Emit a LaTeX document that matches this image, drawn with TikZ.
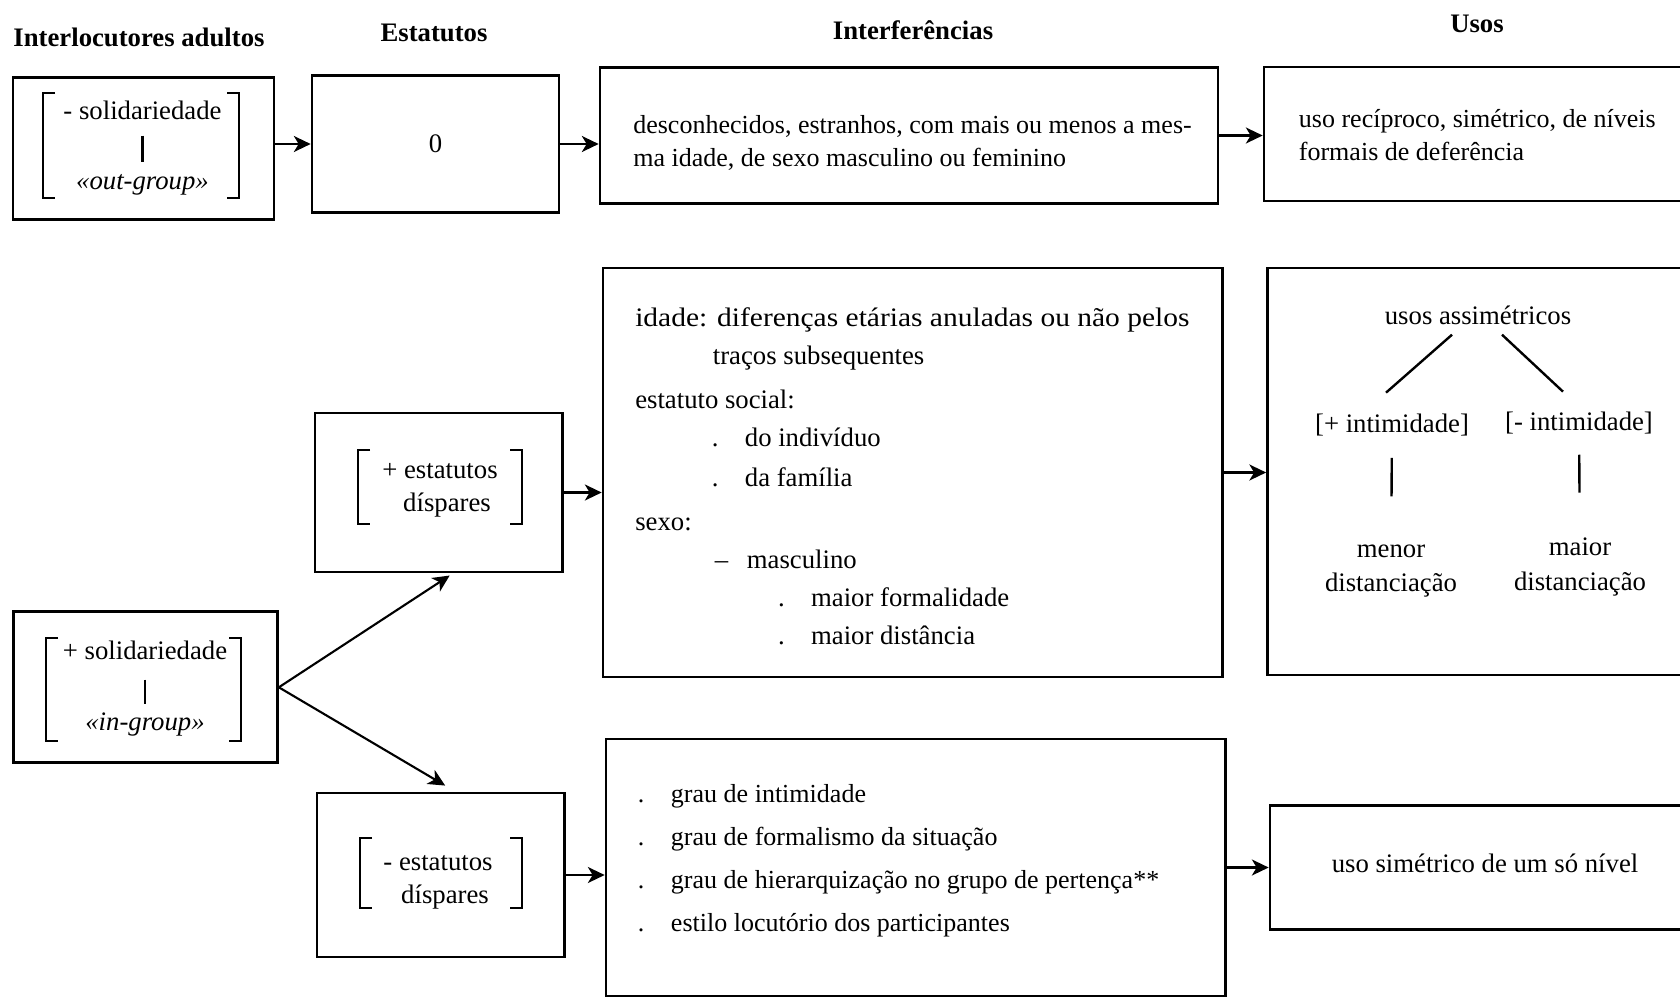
\documentclass[tikz,border=0pt]{standalone}
\usepackage{fontspec}
\usepackage{graphicx}
\setmainfont{Liberation Serif}
\usetikzlibrary{arrows.meta,calc}

\tikzset{
  box/.style={draw, line width=1.9pt, inner sep=0pt},
  sized/.style 2 args={minimum width=#1*0.025cm, minimum height=#2*0.025cm},
  head/.style={font=\fontsize{19}{23}\selectfont\bfseries, inner sep=0pt},
  lbl/.style={font=\fontsize{19}{23.5}\selectfont, inner sep=0pt, align=center},
  txt/.style={inner sep=0pt, align=left, anchor=north west},
  link/.style={line width=1.5pt, -{Stealth[length=0.42cm, width=0.4cm, inset=0.12cm]}},
  brak/.style={line width=1.9pt},
  bar/.style={line width=1.7pt},
}

\begin{document}
\begin{tikzpicture}[x=0.025cm, y=-0.025cm]
  \useasboundingbox (0,0) rectangle (1680,999);

  % titulos das colunas
  \node[head] (h1) at (139,37) {Interlocutores adultos};
  \node[head] (h2) at (434,33) {Estatutos};
  \node[head] (h3) at (913,30) {Interferências};
  \node[head] (h4) at (1477,24) {Usos};

  % linha de cima: out-group
  \node[box, sized={261}{142}] (A1) at (143.5,148.5) {};
  \node[box, sized={247}{137}, font=\fontsize{19}{23}\selectfont] (S1) at (435.5,144) {0};
  \node[box, sized={618}{136}] (I1) at (909,135.5) {};
  \node[box, sized={436}{134}] (U1) at (1482,134) {};

  \node[lbl] (sol1) at (142.5,110) {- solidariedade};
  \node[lbl, font=\fontsize{19}{23}\selectfont\itshape] (outg) at (142.5,185) {«out-group»};
  \draw[bar, shorten <=0.4cm, shorten >=0.3cm] (sol1) -- (outg);
  \draw[brak] (55,93) -| (43,198) -- (55,198);
  \draw[brak] (227,93) -| (239,198) -- (227,198);

  \node[txt, font=\fontsize{18.5}{23.5}\selectfont] (I1t) at (633,115)
    {desconhecidos, estranhos, com mais ou menos a mes-\\
     ma idade, de sexo masculino ou feminino};
  \node[txt, font=\fontsize{18.5}{23.5}\selectfont] (U1t) at (1298.6,109)
    {uso recíproco, simétrico, de níveis\\
     formais de deferência};

  % in-group
  \node[box, sized={264}{151}] (A2) at (145.5,687.3) {};
  \node[lbl] (sol2) at (145,650) {+ solidariedade};
  \node[lbl, font=\fontsize{19}{23}\selectfont\itshape] (ing) at (145,724) {«in-group»};
  \draw[bar, shorten <=0.5cm, shorten >=0.2cm] (sol2) -- (ing);
  \draw[brak] (58,638) -| (46,741) -- (58,741);
  \draw[brak] (229,638) -| (241,741) -- (229,741);

  % + estatutos dispares
  \node[box, sized={247.5}{159}] (S2) at (438.75,492.5) {};
  \node[lbl] (st2) at (440,490) {+ estatutos\\\hspace*{0.35cm}díspares};
  \draw[brak] (370,450) -| (358,524) -- (370,524);
  \draw[brak] (510,450) -| (522,524) -- (510,524);

  \node[box, sized={619.6}{409}] (I2) at (912.8,472.5) {};
  \node[txt, font=\fontsize{19}{27}\selectfont] (I2t) at (635,307)
    {\resizebox{13.85cm}{\height}{idade: diferenças etárias anuladas ou não pelos}\\
     \hspace*{1.94cm}traços subsequentes\\[0.15cm]
     estatuto social:\\
     \hspace*{1.915cm}\makebox[0.825cm][l]{.}do indivíduo\\[0.06cm]
     \hspace*{1.915cm}\makebox[0.825cm][l]{.}da família\\[0.15cm]
     sexo:\\
     \hspace*{1.99cm}\makebox[0.8cm][l]{–}masculino\\
     \hspace*{3.57cm}\makebox[0.825cm][l]{.}maior formalidade\\
     \hspace*{3.57cm}\makebox[0.825cm][l]{.}maior distância};

  \node[box, sized={432.5}{407}] (U2) at (1483.75,471.5) {};
  \node[lbl] (usos) at (1478,315) {usos assimétricos};
  \node[lbl] (pint) at (1392,425) {[+ intimidade]};
  \node[lbl] (mint) at (1579,423) {[- intimidade]};
  \node[lbl, font=\fontsize{19}{24.5}\selectfont] (menor) at (1391,571) {menor\\distanciação};
  \node[lbl, font=\fontsize{19}{24.5}\selectfont] (maior) at (1580,567) {maior\\distanciação};
  \draw[bar] ($(usos.south)+(-26,10)$) -- ($(pint.north)+(-6,-21)$);
  \draw[bar] ($(usos.south)+(24,10)$) -- ($(mint.north)+(-16,-20)$);
  \draw[bar, shorten <=0.54cm, shorten >=1.2cm] (pint) -- (menor);
  \draw[bar, shorten <=0.51cm, shorten >=1.13cm] (mint) -- (maior);

  % - estatutos dispares
  \node[box, sized={247.6}{164}] (S3) at (440.8,875) {};
  \node[lbl] (st3) at (438,882) {- estatutos\\\hspace*{0.35cm}díspares};
  \draw[brak] (372,838) -| (360,908) -- (372,908);
  \draw[brak] (510,838) -| (522,908) -- (510,908);

  \node[box, sized={619.6}{257}] (I3) at (915.8,867.5) {};
  \node[txt, font=\fontsize{18.5}{30.5}\selectfont] (I3t) at (637.7,784)
    {\makebox[0.825cm][l]{.}grau de intimidade\\
     \makebox[0.825cm][l]{.}grau de formalismo da situação\\
     \makebox[0.825cm][l]{.}grau de hierarquização no grupo de pertença**\\
     \makebox[0.825cm][l]{.}estilo locutório dos participantes};

  \node[box, sized={430}{124}, font=\fontsize{19}{23}\selectfont] (U3) at (1485,867.5)
    {\raisebox{0.22cm}{uso simétrico de um só nível}};

  % setas
  \draw[link] (A1.east |- S1.west) -- (S1.west);
  \draw[link] (S1.east) -- (S1.east -| I1.west);
  \draw[link] (I1.east) -- (I1.east -| U1.west);
  \draw[link, shorten >=0.1cm] (A2.east) -- (S2.280);
  \draw[link, shorten >=0.3cm] (A2.east) -- (S3.80);
  \draw[link] (S2.east) -- (S2.east -| I2.west);
  \draw[link] (I2.east) -- (I2.east -| U2.west);
  \draw[link] (S3.east) -- (S3.east -| I3.west);
  \draw[link] (U3.west -| I3.east) -- (U3.west);
\end{tikzpicture}
\end{document}
